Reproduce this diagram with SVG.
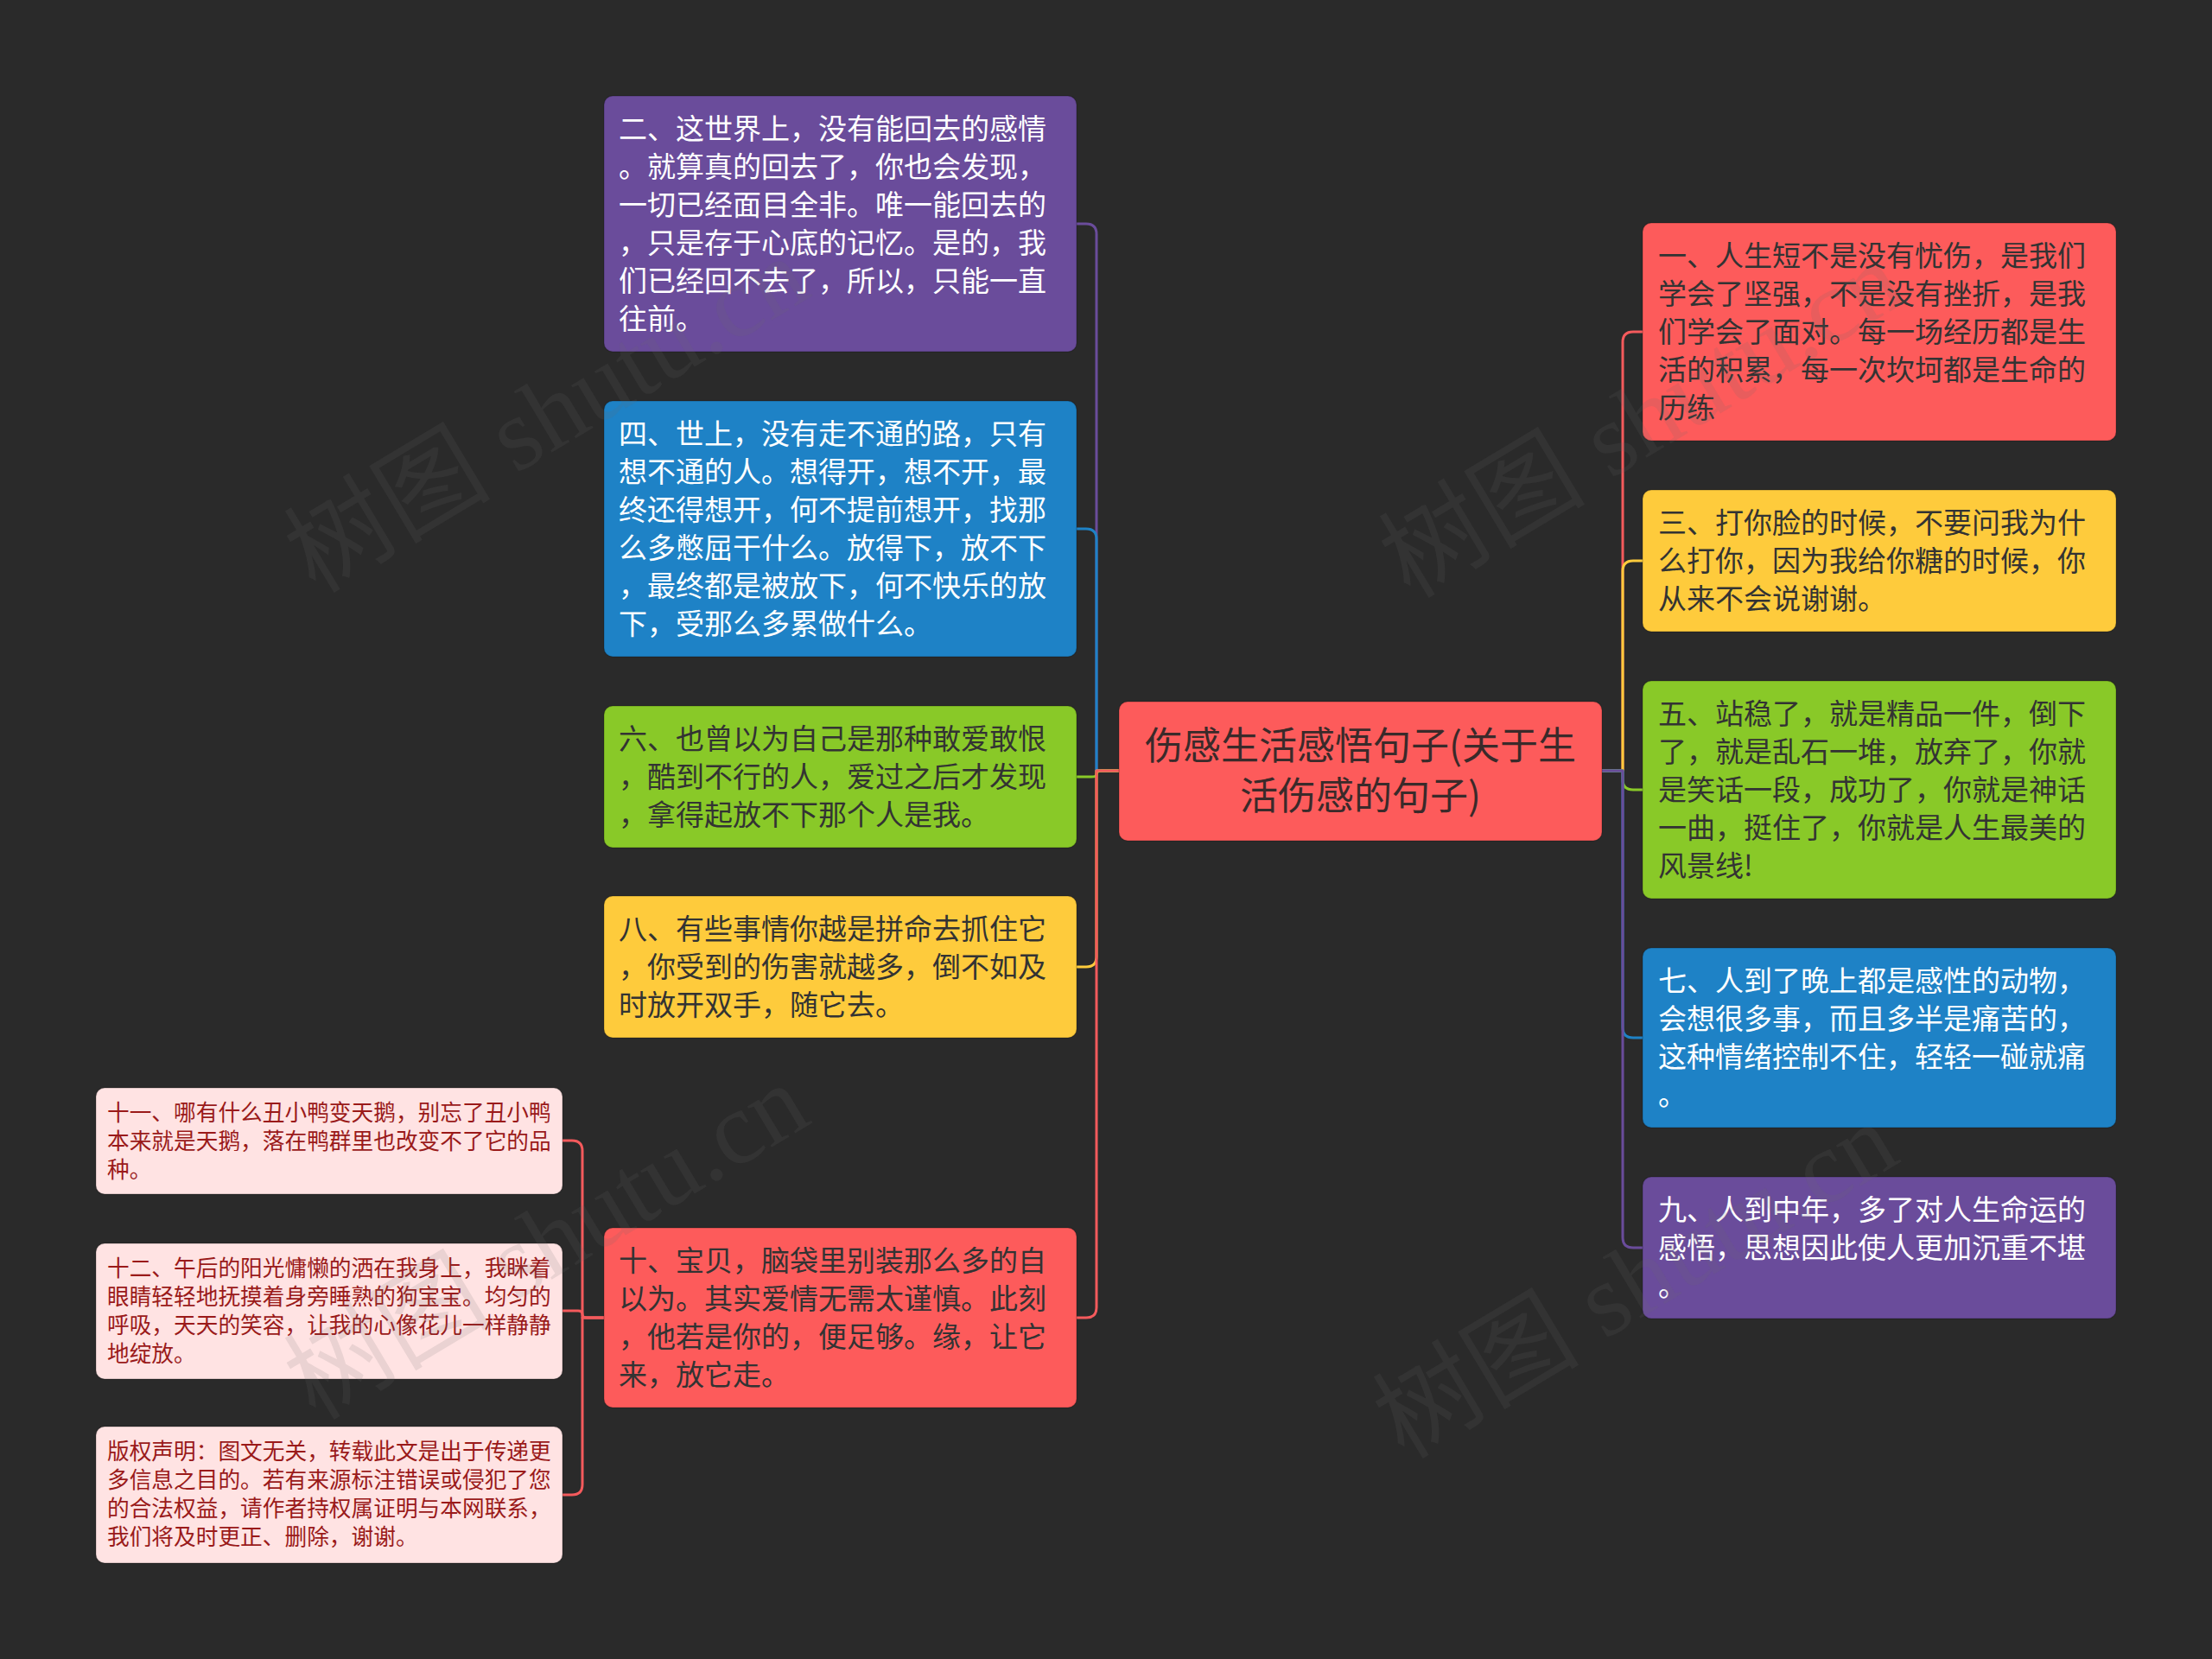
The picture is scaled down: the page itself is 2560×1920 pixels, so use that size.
<svg xmlns="http://www.w3.org/2000/svg" width="2560" height="1920" viewBox="0 0 2560 1920">
<style>
.bg{fill:#2a2a2a}
.box{stroke:rgba(0,0,0,0.18);stroke-width:1.5}
.purple{fill:#6a4c9b}
.blue{fill:#1e82c6}
.green{fill:#89c928}
.yellow{fill:#fecb3c}
.red{fill:#fd5b5b}
.pink{fill:#ffe3e3}
.t{font-family:"Noto Sans CJK SC","Microsoft YaHei",sans-serif;font-size:33px}
.ts{font-family:"Noto Sans CJK SC","Microsoft YaHei",sans-serif;font-size:25.7px;fill:#9a1a1a}
.tc{font-family:"Noto Sans CJK SC","Microsoft YaHei",sans-serif;font-size:44px;fill:#3a2a2a;text-anchor:middle}
.w{fill:#ffffff}
.d{fill:#333333}
.c{fill:none;stroke-width:3;stroke-linecap:round;stroke-linejoin:round}
.cp{stroke:#6a4c9b}
.cb{stroke:#1e82c6}
.cg{stroke:#89c928}
.cy{stroke:#fecb3c}
.cr{stroke:#f45a5c}
.wm{font-family:"Liberation Serif","Noto Sans CJK SC",serif;font-size:120px;fill:#6a6a6a;fill-opacity:0.14}
</style>
<rect class="bg" x="0" y="0" width="2560" height="1920"/>

<g id="connectors">
  <path class="c cp" d="M1295,892 H1269 V271 Q1269,259 1257,259 H1246"/>
  <path class="c cb" d="M1295,892 H1269 V624 Q1269,612 1257,612 H1246"/>
  <path class="c cg" d="M1295,892 H1275 Q1269,892 1269,896 Q1269,899 1263,899 H1246"/>
  <path class="c cy" d="M1295,892 H1269 V1107 Q1269,1119 1257,1119 H1246"/>
  <path class="c cr" d="M1295,892 H1269 V1513 Q1269,1525 1257,1525 H1246"/>

  <path class="c cr" d="M1854,892 H1878 V396 Q1878,384 1890,384 H1901"/>
  <path class="c cy" d="M1854,892 H1878 V661 Q1878,649 1890,649 H1901"/>
  <path class="c cg" d="M1854,892 H1878 V902 Q1878,914 1890,914 H1901"/>
  <path class="c cb" d="M1854,892 H1878 V1189 Q1878,1201 1890,1201 H1901"/>
  <path class="c cp" d="M1854,892 H1878 V1432 Q1878,1444 1890,1444 H1901"/>

  <path class="c cr" d="M699,1525 H674 V1332 Q674,1320 662,1320 H651"/>
  <path class="c cr" d="M699,1525 H679 Q674,1525 674,1521 Q674,1517 669,1517 H651"/>
  <path class="c cr" d="M699,1525 H674 V1718 Q674,1730 662,1730 H651"/>
</g>

<g id="center">
  <rect class="box red" x="1295" y="812" width="559" height="161" rx="10"/>
  <text class="tc" x="1574.5" y="879">伤感生活感悟句子(关于生</text>
  <text class="tc" x="1574.5" y="937">活伤感的句子)</text>
</g>

<g id="n2">
  <rect class="box purple" x="699" y="111" width="547" height="296" rx="10"/>
  <text class="t w" x="716" y="161">二、这世界上，没有能回去的感情</text>
  <text class="t w" x="716" y="205">。就算真的回去了，你也会发现，</text>
  <text class="t w" x="716" y="249">一切已经面目全非。唯一能回去的</text>
  <text class="t w" x="716" y="293">，只是存于心底的记忆。是的，我</text>
  <text class="t w" x="716" y="337">们已经回不去了，所以，只能一直</text>
  <text class="t w" x="716" y="381">往前。</text>
</g>

<g id="n4">
  <rect class="box blue" x="699" y="464" width="547" height="296" rx="10"/>
  <text class="t w" x="716" y="514">四、世上，没有走不通的路，只有</text>
  <text class="t w" x="716" y="558">想不通的人。想得开，想不开，最</text>
  <text class="t w" x="716" y="602">终还得想开，何不提前想开，找那</text>
  <text class="t w" x="716" y="646">么多憋屈干什么。放得下，放不下</text>
  <text class="t w" x="716" y="690">，最终都是被放下，何不快乐的放</text>
  <text class="t w" x="716" y="734">下，受那么多累做什么。</text>
</g>

<g id="n6">
  <rect class="box green" x="699" y="817" width="547" height="164" rx="10"/>
  <text class="t d" x="716" y="867">六、也曾以为自己是那种敢爱敢恨</text>
  <text class="t d" x="716" y="911">，酷到不行的人，爱过之后才发现</text>
  <text class="t d" x="716" y="955">，拿得起放不下那个人是我。</text>
</g>

<g id="n8">
  <rect class="box yellow" x="699" y="1037" width="547" height="164" rx="10"/>
  <text class="t d" x="716" y="1087">八、有些事情你越是拼命去抓住它</text>
  <text class="t d" x="716" y="1131">，你受到的伤害就越多，倒不如及</text>
  <text class="t d" x="716" y="1175">时放开双手，随它去。</text>
</g>

<g id="n10">
  <rect class="box red" x="699" y="1421" width="547" height="208" rx="10"/>
  <text class="t d" x="716" y="1471">十、宝贝，脑袋里别装那么多的自</text>
  <text class="t d" x="716" y="1515">以为。其实爱情无需太谨慎。此刻</text>
  <text class="t d" x="716" y="1559">，他若是你的，便足够。缘，让它</text>
  <text class="t d" x="716" y="1603">来，放它走。</text>
</g>

<g id="n1">
  <rect class="box red" x="1901" y="258" width="548" height="252" rx="10"/>
  <text class="t d" x="1919" y="308">一、人生短不是没有忧伤，是我们</text>
  <text class="t d" x="1919" y="352">学会了坚强，不是没有挫折，是我</text>
  <text class="t d" x="1919" y="396">们学会了面对。每一场经历都是生</text>
  <text class="t d" x="1919" y="440">活的积累，每一次坎坷都是生命的</text>
  <text class="t d" x="1919" y="484">历练</text>
</g>

<g id="n3">
  <rect class="box yellow" x="1901" y="567" width="548" height="164" rx="10"/>
  <text class="t d" x="1919" y="617">三、打你脸的时候，不要问我为什</text>
  <text class="t d" x="1919" y="661">么打你，因为我给你糖的时候，你</text>
  <text class="t d" x="1919" y="705">从来不会说谢谢。</text>
</g>

<g id="n5">
  <rect class="box green" x="1901" y="788" width="548" height="252" rx="10"/>
  <text class="t d" x="1919" y="838">五、站稳了，就是精品一件，倒下</text>
  <text class="t d" x="1919" y="882">了，就是乱石一堆，放弃了，你就</text>
  <text class="t d" x="1919" y="926">是笑话一段，成功了，你就是神话</text>
  <text class="t d" x="1919" y="970">一曲，挺住了，你就是人生最美的</text>
  <text class="t d" x="1919" y="1014">风景线!</text>
</g>

<g id="n7">
  <rect class="box blue" x="1901" y="1097" width="548" height="208" rx="10"/>
  <text class="t w" x="1919" y="1147">七、人到了晚上都是感性的动物，</text>
  <text class="t w" x="1919" y="1191">会想很多事，而且多半是痛苦的，</text>
  <text class="t w" x="1919" y="1235">这种情绪控制不住，轻轻一碰就痛</text>
  <text class="t w" x="1919" y="1279">。</text>
</g>

<g id="n9">
  <rect class="box purple" x="1901" y="1362" width="548" height="164" rx="10"/>
  <text class="t w" x="1919" y="1412">九、人到中年，多了对人生命运的</text>
  <text class="t w" x="1919" y="1456">感悟，思想因此使人更加沉重不堪</text>
  <text class="t w" x="1919" y="1500">。</text>
</g>

<g id="n11">
  <rect class="box pink" x="111" y="1259" width="540" height="123" rx="10"/>
  <text class="ts" x="124" y="1297">十一、哪有什么丑小鸭变天鹅，别忘了丑小鸭</text>
  <text class="ts" x="124" y="1330">本来就是天鹅，落在鸭群里也改变不了它的品</text>
  <text class="ts" x="124" y="1363">种。</text>
</g>

<g id="n12">
  <rect class="box pink" x="111" y="1439" width="540" height="157" rx="10"/>
  <text class="ts" x="124" y="1477">十二、午后的阳光慵懒的洒在我身上，我眯着</text>
  <text class="ts" x="124" y="1510">眼睛轻轻地抚摸着身旁睡熟的狗宝宝。均匀的</text>
  <text class="ts" x="124" y="1543">呼吸，天天的笑容，让我的心像花儿一样静静</text>
  <text class="ts" x="124" y="1576">地绽放。</text>
</g>

<g id="copyright">
  <rect class="box pink" x="111" y="1651" width="540" height="158" rx="10"/>
  <text class="ts" x="124" y="1689">版权声明：图文无关，转载此文是出于传递更</text>
  <text class="ts" x="124" y="1722">多信息之目的。若有来源标注错误或侵犯了您</text>
  <text class="ts" x="124" y="1755">的合法权益，请作者持权属证明与本网联系，</text>
  <text class="ts" x="124" y="1788">我们将及时更正、删除，谢谢。</text>
</g>

<g id="watermarks">
  <text class="wm" transform="translate(365,688) rotate(-31)">树图 shutu.cn</text>
  <text class="wm" transform="translate(1632,694) rotate(-31)">树图 shutu.cn</text>
  <text class="wm" transform="translate(365,1645) rotate(-31)">树图 shutu.cn</text>
  <text class="wm" transform="translate(1625,1690) rotate(-31)">树图 shutu.cn</text>
</g>
</svg>
